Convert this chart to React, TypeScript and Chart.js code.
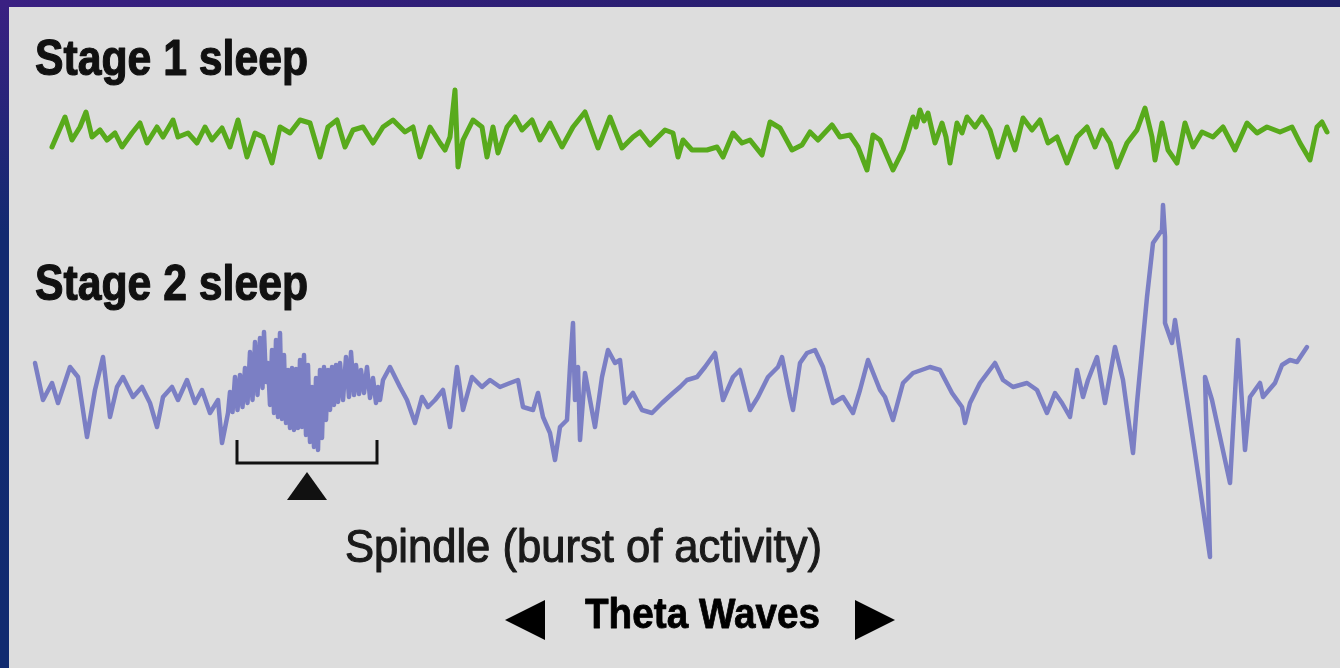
import React, { useEffect, useRef } from "react";
import { Chart, registerables } from "chart.js";

Chart.register(...registerables);

// ---- Data (time in sample units, amplitude in µV-like units) ----
const STAGE1_LABEL = "Stage 1 sleep";
const STAGE2_LABEL = "Stage 2 sleep";
const SPINDLE_LABEL = "Spindle (burst of activity)";
const THETA_LABEL = "Theta Waves";

const stage1Time = [
  52, 65, 72, 80, 86, 92, 100, 107, 115, 122, 132, 140, 147, 157, 163, 173, 178, 188, 197, 205,
  212, 222, 230, 238, 247, 255, 263, 272, 280, 290, 300, 310, 320, 328, 337, 345, 353, 363, 373, 383,
  393, 405, 413, 420, 430, 440, 445, 450, 455, 458, 463, 473, 482, 487, 493, 498, 507, 515, 522, 532,
  540, 550, 562, 573, 585, 598, 610, 622, 633, 640, 650, 665, 673, 678, 683, 692, 707, 717, 723, 733,
  742, 750, 762, 770, 780, 792, 802, 810, 818, 832, 840, 850, 858, 867, 873, 880, 893, 903, 913, 916,
  920, 924, 928, 935, 942, 946, 950, 957, 962, 967, 975, 982, 990, 998, 1007, 1015, 1023, 1032, 1040, 1048,
  1057, 1067, 1077, 1087, 1095, 1102, 1110, 1117, 1127, 1137, 1145, 1152, 1155, 1162, 1168, 1177, 1185, 1193, 1202, 1213,
  1223, 1235, 1247, 1257, 1267, 1280, 1292, 1300, 1310, 1317, 1322, 1327,
];
const stage1Amp = [
  -12, 18, -5, 8, 23, -2, 5, -5, 2, -12, 2, 12, -8, 8, -2, 15, -2, 2, -8, 8,
  -5, 7, -12, 15, -22, 2, -2, -28, 8, 2, 15, 12, -22, 8, 15, -12, 5, 8, -8, 8,
  15, 3, 8, -22, 8, -8, -15, -2, 45, -32, -5, 15, 8, -22, 8, -18, 8, 18, 5, 15,
  -5, 12, -12, 8, 23, -13, 18, -13, -2, 3, -10, 5, 2, -22, -5, -15, -15, -12, -22, 2,
  -8, -5, -20, 13, 7, -15, -10, 3, -5, 10, -2, 0, -12, -35, 0, -5, -35, -15, 18, 8,
  25, 14, 22, -8, 12, -2, -28, 12, 2, 18, 8, 18, 5, -22, 8, -15, 17, 5, 15, -8,
  -2, -28, -2, 8, -12, 5, -8, -32, -8, 5, 27, -2, -25, 12, -15, -28, 12, -12, 3, -2,
  8, -15, 12, 2, 8, 3, 8, -8, -25, 8, 13, 3,
];

const stage2Time = [
  35, 43, 52, 58, 70, 78, 87, 95, 103, 110, 117, 123, 133, 142, 150, 157, 163, 172, 178, 187,
  195, 202, 210, 218, 222, 228, 230, 232.5, 235, 237.5, 240, 242.5, 245, 247.5, 250, 252.5, 255, 257.5, 260, 262.5,
  264, 266, 268, 270, 272, 274, 276, 278, 280, 282, 284, 286, 288, 290, 292, 294, 296, 298, 300, 302,
  304, 306, 308, 310, 312, 314, 316, 318, 320, 322, 324, 326, 328, 330, 332, 334, 336, 338, 340, 343,
  346, 349, 351, 354, 356, 359, 361, 364, 367, 370, 373, 376, 378, 380, 383, 390, 400, 407, 415, 422,
  428, 435, 443, 450, 457, 463, 472, 482, 490, 500, 510, 518, 523, 533, 538, 543, 550, 555, 560, 567,
  570, 573, 575, 578, 580, 585, 590, 595, 602, 608, 615, 620, 625, 633, 642, 652, 662, 673, 680, 687,
  697, 705, 715, 723, 733, 740, 750, 758, 768, 778, 782, 790, 793, 800, 807, 815, 823, 833, 843, 853,
  860, 868, 880, 885, 893, 903, 913, 930, 940, 952, 962, 965, 970, 980, 995, 1003, 1013, 1027, 1037, 1047,
  1055, 1062, 1070, 1077, 1083, 1088, 1097, 1105, 1115, 1123, 1133, 1137, 1147, 1153, 1162, 1163, 1165, 1165, 1172, 1175,
  1195, 1210, 1205, 1212, 1230, 1238, 1245, 1250, 1260, 1263, 1275, 1282, 1290, 1297, 1307,
];
const stage2Amp = [
  7, -30, -13, -33, 3, -7, -67, -20, 13, -47, -17, -7, -27, -17, -33, -57, -27, -17, -30, -10,
  -33, -20, -43, -30, -73, -43, -22, -42, -7, -40, -5, -37, 2, -33, 18, -30, 28, -25, 32, -18,
  38, -12, 7, -35, 20, -43, 30, -47, 37, -49, 15, -53, 0, -58, 2, -60, 1, -58, 10, -57,
  15, -65, 5, -72, -17, -77, -8, -80, 0, -68, 3, -50, 0, -40, 3, -35, 5, -32, 7, -30,
  13, -27, 18, -25, 5, -24, 0, -23, 3, -28, -8, -33, -17, -30, -10, 3, -17, -30, -53, -27,
  -37, -30, -20, -57, 3, -40, -7, -17, -10, -17, -13, -10, -37, -40, -23, -47, -63, -90, -57, -50,
  3, 47, -30, 3, -70, -3, -30, -57, -7, 20, 7, 10, -33, -23, -40, -43, -33, -23, -17, -10,
  -7, 3, 17, -30, -7, 0, -40, -27, -7, 3, 13, -27, -40, 7, 17, 20, 3, -33, -27, -43,
  -20, 10, -20, -27, -50, -13, -3, 3, 0, -23, -37, -53, -33, -13, 7, -10, -17, -13, -20, -43,
  -23, -33, -47, 0, -27, -10, 13, -33, 23, -10, -83, -33, 73, 127, 140, 165, 133, 47, 27, 50,
  -83, -187, -7, -30, -113, 30, -80, -27, -13, -27, -13, 5, 10, 8, 23,
];

const spindleWindow = [237, 377];
const thetaWindow = [505, 895];

const GREEN = "#58aa1c";
const PURPLE = "#7b7fc4";
const PANEL = "#dddddd";
const INK = "#111111";

export default function App() {
  const canvasRef = useRef<HTMLCanvasElement | null>(null);

  useEffect(() => {
    const canvas = canvasRef.current;
    if (!canvas) return;

    const framePlugin = {
      id: "frame",
      beforeDraw(chart: any) {
        const { ctx, width, height } = chart;
        ctx.save();
        const g = ctx.createLinearGradient(0, 0, width, 0);
        g.addColorStop(0, "#3a2082");
        g.addColorStop(0.5, "#2a1e72");
        g.addColorStop(1, "#1d1f68");
        ctx.fillStyle = g;
        ctx.fillRect(0, 0, width, 7);
        const v = ctx.createLinearGradient(0, 0, 0, height);
        v.addColorStop(0, "#3a2082");
        v.addColorStop(0.35, "#122a70");
        v.addColorStop(1, "#112b70");
        ctx.fillStyle = v;
        ctx.fillRect(0, 7, 9, height - 7);
        ctx.fillStyle = PANEL;
        ctx.fillRect(9, 7, width - 9, height - 7);
        ctx.restore();
      },
    };

    const fitText = (
      ctx: CanvasRenderingContext2D,
      text: string,
      font: string,
      x: number,
      y: number,
      w: number,
      stroke: number
    ) => {
      ctx.save();
      ctx.font = font;
      const m = ctx.measureText(text).width;
      ctx.translate(x, y);
      ctx.scale(w / m, 1);
      ctx.fillText(text, 0, 0);
      if (stroke > 0) {
        ctx.lineWidth = stroke;
        ctx.lineJoin = "round";
        ctx.strokeText(text, 0, 0);
      }
      ctx.restore();
    };

    const annotationPlugin = {
      id: "annotations",
      afterDraw(chart: any) {
        const { ctx } = chart;
        const xs = chart.scales.x;
        const y2 = chart.scales.yStage2;
        ctx.save();
        ctx.fillStyle = INK;
        ctx.strokeStyle = INK;
        ctx.textBaseline = "alphabetic";
        const boldFont = "bold 50px 'Liberation Sans', Arial, Helvetica, sans-serif";
        fitText(ctx, STAGE1_LABEL, boldFont, 35, 75, 273, 1.2);
        fitText(ctx, STAGE2_LABEL, boldFont, 35, 300, 273, 1.2);

        // spindle bracket
        const sx0 = xs.getPixelForValue(spindleWindow[0]);
        const sx1 = xs.getPixelForValue(spindleWindow[1]);
        const top = y2.getPixelForValue(-70);
        const bot = y2.getPixelForValue(-93);
        ctx.lineWidth = 3;
        ctx.beginPath();
        ctx.moveTo(sx0, top);
        ctx.lineTo(sx0, bot);
        ctx.lineTo(sx1, bot);
        ctx.lineTo(sx1, top);
        ctx.stroke();
        const mid = (sx0 + sx1) / 2;
        ctx.beginPath();
        ctx.moveTo(mid, bot + 9);
        ctx.lineTo(mid + 20, bot + 37);
        ctx.lineTo(mid - 20, bot + 37);
        ctx.closePath();
        ctx.fill();

        ctx.fillStyle = "#1a1a1a";
        ctx.strokeStyle = "#1a1a1a";
        fitText(ctx, SPINDLE_LABEL, "46px 'Liberation Sans', Arial, Helvetica, sans-serif", 345, 562, 477, 1.1);

        // theta waves
        ctx.fillStyle = "#000000";
        ctx.strokeStyle = "#000000";
        const tx0 = xs.getPixelForValue(thetaWindow[0]);
        const tx1 = xs.getPixelForValue(thetaWindow[1]);
        const ty = 620;
        ctx.beginPath();
        ctx.moveTo(tx0, ty);
        ctx.lineTo(tx0 + 40, ty - 20);
        ctx.lineTo(tx0 + 40, ty + 20);
        ctx.closePath();
        ctx.fill();
        ctx.beginPath();
        ctx.moveTo(tx1, ty);
        ctx.lineTo(tx1 - 40, ty - 20);
        ctx.lineTo(tx1 - 40, ty + 20);
        ctx.closePath();
        ctx.fill();
        fitText(ctx, THETA_LABEL, "bold 43px 'Liberation Sans', Arial, Helvetica, sans-serif", 585, 628, 235, 0.8);
        ctx.restore();
      },
    };

    const chart = new Chart(canvas, {
      type: "line",
      data: {
        datasets: [
          {
            label: STAGE1_LABEL,
            data: stage1Time.map((t, i) => ({ x: t, y: stage1Amp[i] })),
            yAxisID: "yStage1",
            borderColor: GREEN,
            borderWidth: 5,
            pointRadius: 0,
            tension: 0,
            borderJoinStyle: "round",
            borderCapStyle: "round",
          },
          {
            label: STAGE2_LABEL,
            data: stage2Time.map((t, i) => ({ x: t, y: stage2Amp[i] })),
            yAxisID: "yStage2",
            borderColor: PURPLE,
            borderWidth: 4.5,
            pointRadius: 0,
            tension: 0,
            borderJoinStyle: "round",
            borderCapStyle: "round",
          },
        ],
      },
      options: {
        animation: false,
        responsive: false,
        events: [],
        layout: { padding: 0 },
        plugins: { legend: { display: false }, tooltip: { enabled: false } },
        scales: {
          x: { type: "linear", display: false, min: 0, max: 1340 },
          yStage1: { type: "linear", display: false, min: -533, max: 135 },
          yStage2: { type: "linear", display: false, min: -298, max: 370 },
        },
      },
      plugins: [framePlugin, annotationPlugin],
    } as any);

    return () => chart.destroy();
  }, []);

  return (
    <div style={{ position: "fixed", left: 0, top: 0, width: 1340, height: 668, overflow: "hidden" }}>
      <canvas ref={canvasRef} width={1340} height={668} style={{ display: "block", width: 1340, height: 668 }} />
    </div>
  );
}
